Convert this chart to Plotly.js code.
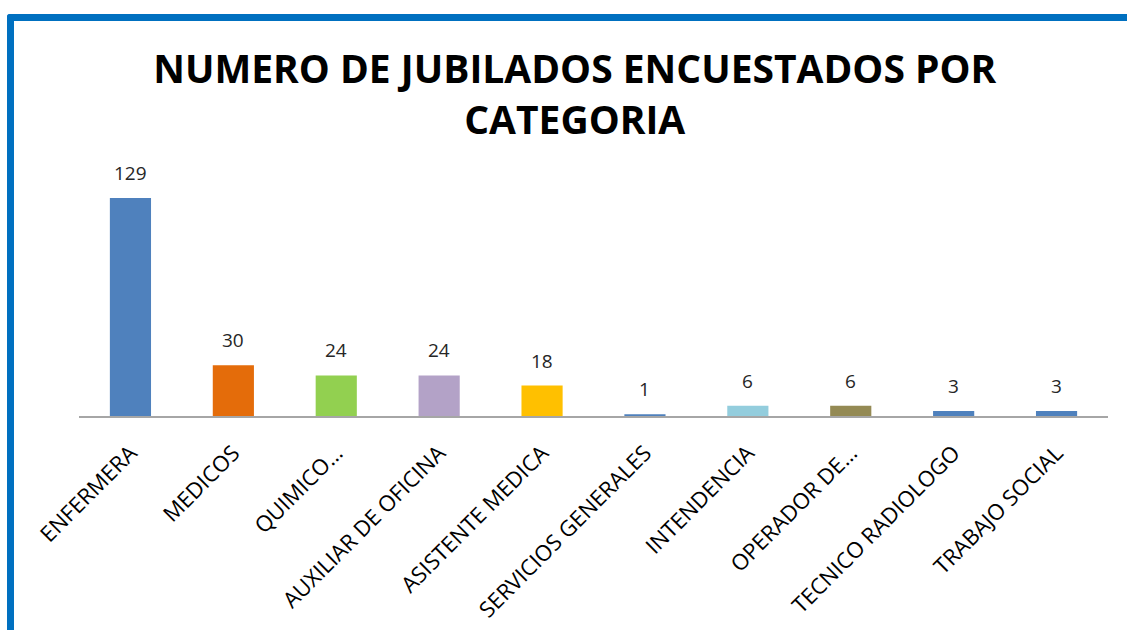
<!DOCTYPE html>
<html>
<head>
<meta charset="utf-8">
<script src="https://cdn.plot.ly/plotly-3.0.1.min.js"></script>
<style>
html,body{margin:0;padding:0;background:#fff;}
#wrap{position:relative;width:1127px;height:630px;overflow:hidden;}
#chart{width:1127px;height:630px;}
#frame{position:absolute;left:7px;top:14px;width:1200px;height:700px;border-top:7px solid #0070C0;border-left:7px solid #0070C0;border-top-left-radius:3px;pointer-events:none;}
</style>
</head>
<body>
<div id="wrap">
<div id="chart"></div>
<div id="frame"></div>
</div>
<script>
const categories = ["ENFERMERA","MEDICOS","QUIMICO…","AUXILIAR DE OFICINA","ASISTENTE MEDICA","SERVICIOS GENERALES","INTENDENCIA","OPERADOR DE…","TECNICO RADIOLOGO","TRABAJO SOCIAL"];
const values = [129,30,24,24,18,1,6,6,3,3];
const barColors = ["#4F81BD","#E46C0A","#92D050","#B3A2C7","#FFC000","#4F81BD","#93CDDD","#948A54","#4F81BD","#4F81BD"];

const trace = {
  type: "bar",
  x: categories,
  y: values,
  marker: {color: barColors},
  width: 0.4,
  hoverinfo: "x+y"
};

const labelAnnotations = categories.map((c, i) => ({
  x: c, y: values[i], xref: "x", yref: "y",
  text: String(values[i]),
  showarrow: false,
  yanchor: "bottom",
  yshift: 10,
  font: {family: "Open Sans, sans-serif", size: 19, color: "#262626"}
}));

const layout = {
  width: 1127, height: 630,
  margin: {l: 79, r: 19, t: 160, b: 214},
  paper_bgcolor: "#ffffff",
  plot_bgcolor: "#ffffff",
  showlegend: false,
  title: {
    text: "<b>NUMERO DE JUBILADOS ENCUESTADOS POR<br>CATEGORIA</b>",
    font: {family: "Open Sans, sans-serif", size: 39, color: "#000000"},
    x: 0.51, xanchor: "center",
    xref: "container", yref: "container",
    y: 1 - 83/630, yanchor: "middle"
  },
  xaxis: {
    type: "category",
    tickangle: -45,
    tickfont: {family: "Open Sans, sans-serif", size: 22, color: "#000000"},
    ticklabelstandoff: 14,
    showline: true, linecolor: "#A6A6A6", linewidth: 1.5,
    ticks: "", showgrid: false, automargin: false
  },
  yaxis: {
    range: [0, 151.4],
    visible: false,
    showgrid: false, zeroline: false
  },
  annotations: labelAnnotations,
  bargap: 0.6
};

Plotly.newPlot("chart", [trace], layout, {displayModeBar: false, staticPlot: true});
</script>
</body>
</html>
